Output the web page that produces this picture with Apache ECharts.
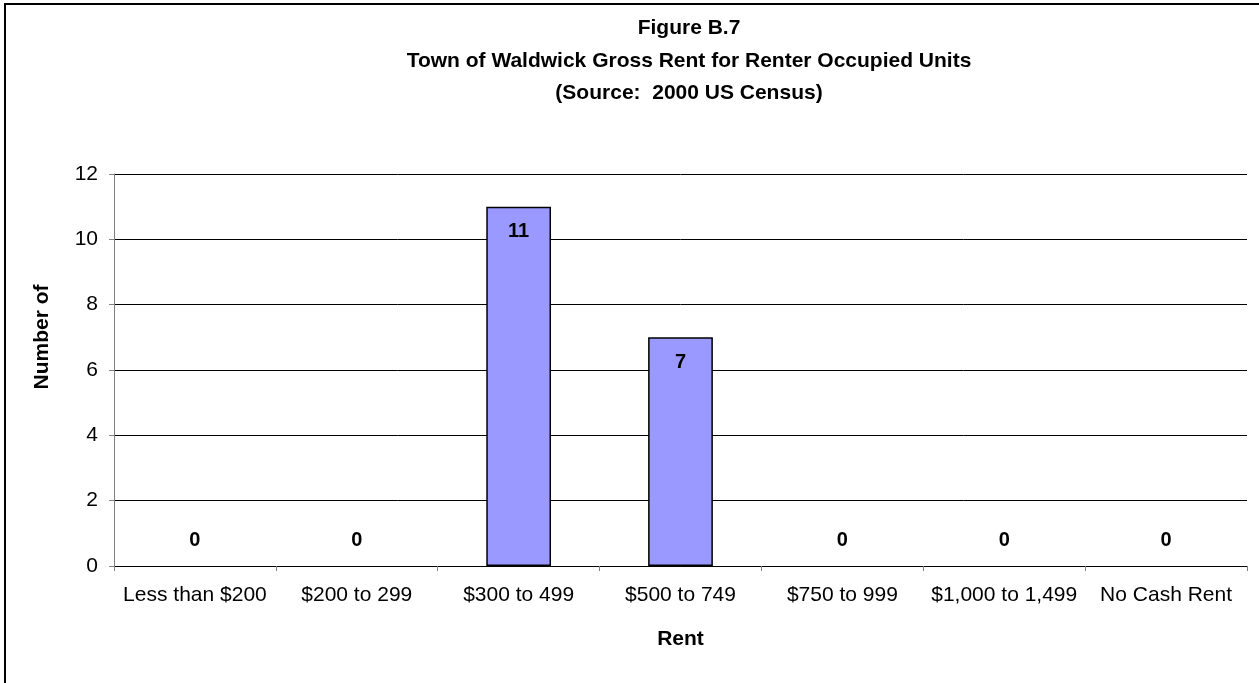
<!DOCTYPE html>
<html>
<head>
<meta charset="utf-8">
<script src="https://cdn.jsdelivr.net/npm/echarts@6/dist/echarts.min.js"></script>
<style>
  html, body { margin: 0; padding: 0; background: #fff; }
  .frame { position: absolute; left: 4px; top: 3px; width: 1270px; height: 700px;
    border-left: 2px solid #000; border-top: 2px solid #000; box-sizing: border-box; }
  #chart { position: absolute; left: 0; top: 0; width: 1259px; height: 683px; }
</style>
</head>
<body>
<div class="frame"></div>
<div id="chart"></div>
<script>
var titleLines = ['Figure B.7', 'Town of Waldwick Gross Rent for Renter Occupied Units', '(Source:  2000 US Census)']
var categories = ['Less than $200', '$200 to 299', '$300 to 499', '$500 to 749', '$750 to 999', '$1,000 to 1,499', 'No Cash Rent']
var units = [0, 0, 11, 7, 0, 0, 0]
var yTicks = { min: 0, max: 12, interval: 2 }

var myChart = echarts.init(document.getElementById('chart'))
var font = '"Liberation Sans", Arial, sans-serif'

// zero bars: label sits above the axis, no border line
var data = units.map(function (v) {
  return {
    value: v,
    itemStyle: v === 0 ? { borderWidth: 0 } : {},
    label: v === 0
      ? { position: 'top', distance: 16 }
      : { position: 'insideTop', distance: 15 }
  }
})

var option = {
  animation: false,
  backgroundColor: 'transparent',
  title: {
    text: titleLines.join('\n'),
    left: 684,
    textAlign: 'center',
    top: 7,
    textStyle: {
      fontFamily: font,
      fontSize: 21,
      fontWeight: 'bold',
      color: '#000',
      lineHeight: 32.5
    }
  },
  grid: { left: 114, right: 12, top: 174, bottom: 117 },
  xAxis: {
    type: 'category',
    data: categories,
    name: 'Rent',
    nameLocation: 'middle',
    nameGap: 63,
    nameTextStyle: { fontFamily: font, fontSize: 21, fontWeight: 'bold', color: '#000' },
    axisLine: { lineStyle: { color: '#000', width: 1 } },
    axisTick: { show: true, length: 5, lineStyle: { color: '#808080' } },
    axisLabel: { fontFamily: font, fontSize: 21, color: '#000', margin: 19, interval: 0 }
  },
  yAxis: {
    type: 'value',
    min: yTicks.min,
    max: yTicks.max,
    interval: yTicks.interval,
    name: 'Number of',
    nameLocation: 'middle',
    nameGap: 61,
    nameTextStyle: { fontFamily: font, fontSize: 21, fontWeight: 'bold', color: '#000', padding: [0, 0, 0, 66] },
    axisLine: { show: true, lineStyle: { color: '#808080', width: 1 } },
    axisTick: { show: true, length: 5, lineStyle: { color: '#808080' } },
    axisLabel: { fontFamily: font, fontSize: 21, color: '#000', margin: 16 },
    splitLine: { show: true, lineStyle: { color: '#000', width: 1 } }
  },
  series: [{
    type: 'bar',
    data: data,
    barWidth: '40%',
    itemStyle: { color: '#9999FF', borderColor: '#000', borderWidth: 1.5 },
    label: {
      show: true,
      fontFamily: font,
      fontSize: 20,
      fontWeight: 'bold',
      color: '#000'
    }
  }]
}
myChart.setOption(option)
</script>
</body>
</html>
